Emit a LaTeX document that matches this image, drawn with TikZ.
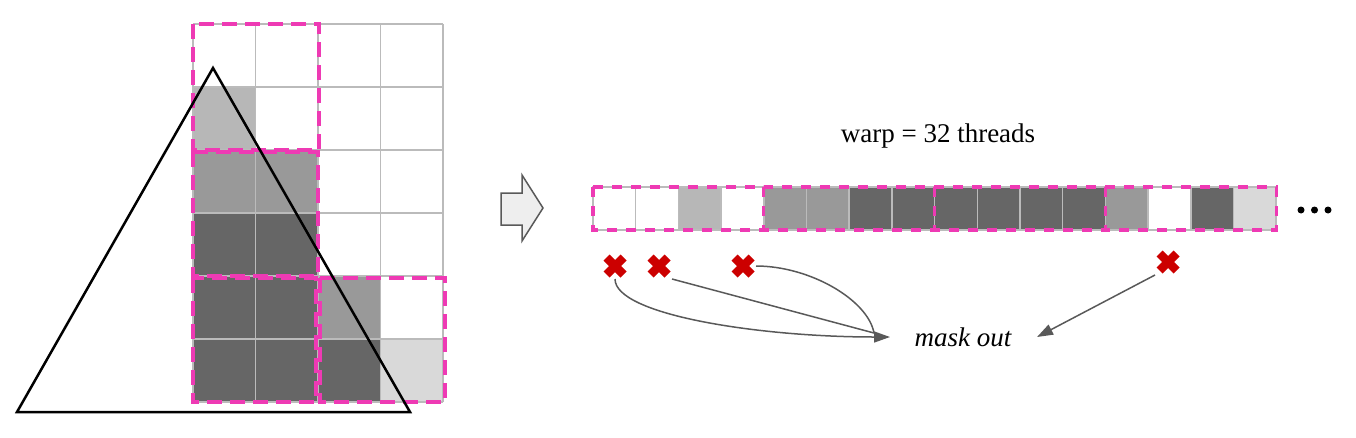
\documentclass[tikz,border=0pt]{standalone}
\usepackage{fontspec}
\setmainfont{Liberation Serif}
\usetikzlibrary{arrows.meta}
\definecolor{pinkd}{RGB}{238,58,180}
\definecolor{lg}{HTML}{B7B7B7}
\definecolor{mg}{HTML}{999999}
\definecolor{dg}{HTML}{666666}
\definecolor{vlg}{HTML}{D9D9D9}
\definecolor{wh}{HTML}{FFFFFF}
\definecolor{gridc}{HTML}{BBBBBB}
\definecolor{xred}{HTML}{CC0000}
\definecolor{arrc}{HTML}{595959}
\definecolor{blockfill}{HTML}{EEEEEE}
\tikzset{
  gridline/.style={gridc, line width=1.5pt},
  pinkgrid/.style={pinkd, line width=4pt, dash pattern=on 15pt off 8pt},
  pinkstrip/.style={pinkd, line width=3.2pt, dash pattern=on 10pt off 9pt},
  xmark/.style={minimum size=26pt, inner sep=0pt, outer sep=0pt,
    path picture={
      \draw[xred, line width=8.5pt]
        ([shift={(-8.5pt,-8.5pt)}]path picture bounding box.center) -- ([shift={(8.5pt,8.5pt)}]path picture bounding box.center)
        ([shift={(-8.5pt,8.5pt)}]path picture bounding box.center) -- ([shift={(8.5pt,-8.5pt)}]path picture bounding box.center);
    }},
  conn/.style={arrc, line width=1.5pt},
  tip/.style={-{Triangle[length=16pt,width=11pt]}},
  lbl/.style={font=\fontsize{27}{32}\selectfont, inner sep=0pt},
  dot/.style={circle, fill=black, minimum size=7pt, inner sep=0pt},
  blockarrow/.style={draw=arrc, fill=blockfill, line width=1.5pt, line join=miter}
}
\begin{document}
\begin{tikzpicture}[x=1pt,y=-1pt]
\useasboundingbox (0,0) rectangle (1356,437);

% ---- left grid ----
\foreach \c/\r/\col in {0/1/lg, 0/2/mg, 1/2/mg, 0/3/dg, 1/3/dg, 0/4/dg, 1/4/dg, 2/4/mg, 0/5/dg, 1/5/dg, 2/5/dg, 3/5/vlg}
  \fill[\col] (193+\c*62.5, 24+\r*63) rectangle ++(62.5,63);
\foreach \i in {0,...,4}
  \draw[gridline] (193+\i*62.5, 24) -- (193+\i*62.5, 402);
\foreach \j in {0,...,6}
  \draw[gridline] (193, 24+\j*63) -- (443, 24+\j*63);

% pink groups on grid
\draw[pinkgrid] (193,24) rectangle (319,150);
\draw[pinkgrid] (193,152) rectangle (318,276);
\draw[pinkgrid] (193,278) rectangle (316,402);
\draw[pinkgrid] (320,278) rectangle (445,402);

% triangle
\draw[black, line width=2.5pt, line join=miter] (213,68) -- (410,412) -- (17,412) -- cycle;

% ---- block arrow ----
\draw[blockarrow] (501,193) -- (522,193) -- (522,175) -- (543,208) -- (522,241) -- (522,225) -- (501,225) -- cycle;

% ---- warp strip ----
\foreach \k/\col in {0/wh, 1/wh, 2/lg, 3/wh, 4/mg, 5/mg, 6/dg, 7/dg, 8/dg, 9/dg, 10/dg, 11/dg, 12/mg, 13/wh, 14/dg, 15/vlg}
  \filldraw[fill=\col, draw=gridc, line width=1.5pt] (593+\k*42.7, 187) rectangle ++(42.7,43);
\foreach \g in {0,...,3}
  \draw[pinkstrip] (593+\g*170.8, 187) rectangle ++(170.8,43);

\node[lbl] (warp) at (938,136) {warp = 32 threads};

% dots
\node[dot] (d1) at (1301,210) {};
\node[dot] (d2) at (1314.5,210) {};
\node[dot] (d3) at (1328,210) {};

% ---- x marks ----
\node[xmark] (x1) at (615,266) {};
\node[xmark] (x2) at (659,266) {};
\node[xmark] (x3) at (743,266) {};
\node[xmark] (x4) at (1168,262) {};

% ---- mask out ----
\node[lbl] (mask) at (963,337) {\itshape mask out};
\coordinate (mtip) at (890,337);
\coordinate (mjoin) at (874,333);
\coordinate (mtip2) at (1037,337);

\draw[conn, tip] (x1.south) .. controls (615,315) and (760,337) .. (mtip);
\draw[conn] (x2.south east) -- (mjoin);
\draw[conn] (x3.east) .. controls (810,266) and (868,300) .. (mjoin);
\draw[conn, tip] (x4.south west) -- (mtip2);
\end{tikzpicture}
\end{document}
